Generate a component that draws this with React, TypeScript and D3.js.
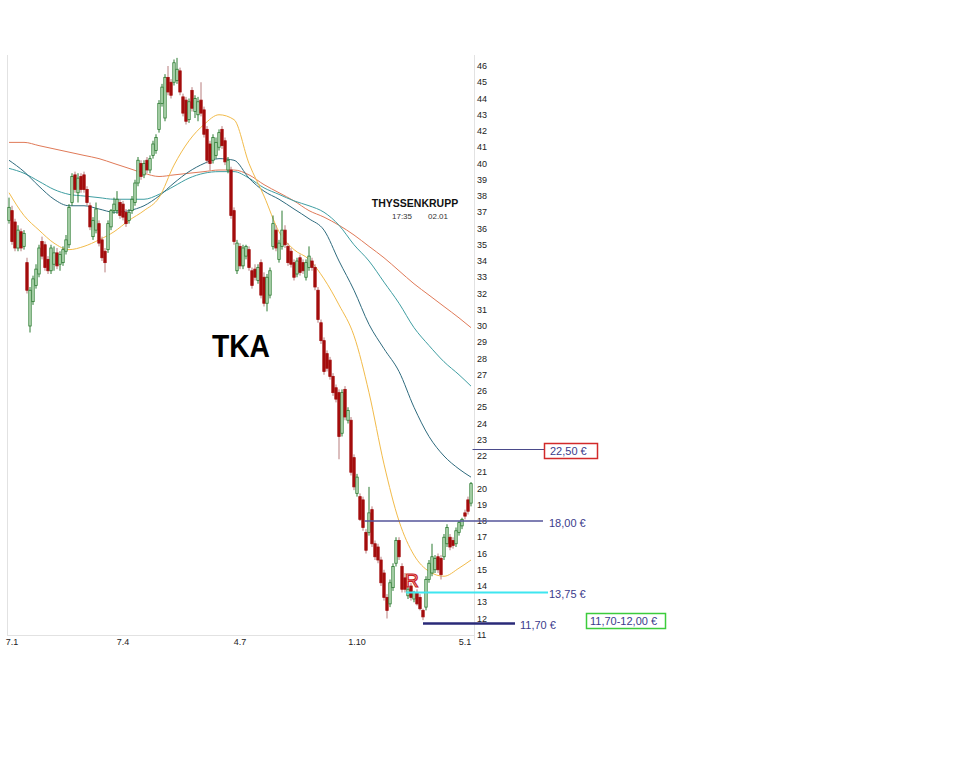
import React from 'react';
import * as d3 from 'd3';

// daily candles [open, high, low, close], left to right
const CANDLES: [number, number, number, number][] = [
  [36.5, 37.9, 36.3, 37.3], [37.1, 37.4, 35.0, 35.2], [36.4, 36.6, 34.6, 34.8], [34.8, 36.2, 34.6, 35.9],
  [35.8, 36.0, 34.6, 34.8], [34.9, 35.9, 34.7, 35.7], [33.9, 34.2, 32.0, 32.2], [30.0, 32.4, 29.6, 32.2],
  [31.5, 33.1, 31.3, 32.9], [32.5, 33.8, 32.3, 33.5], [33.2, 35.0, 33.0, 34.8], [35.2, 35.5, 34.1, 34.3],
  [35.0, 35.2, 33.4, 33.6], [34.1, 34.3, 33.2, 33.4], [33.4, 35.0, 33.2, 34.8], [33.8, 34.9, 33.4, 34.5],
  [34.5, 34.8, 33.5, 33.7], [33.8, 34.6, 33.4, 34.4], [33.9, 34.9, 33.7, 34.7], [34.6, 35.6, 34.4, 35.3],
  [35.0, 37.5, 34.8, 37.3], [37.6, 39.4, 37.4, 39.2], [39.3, 39.5, 38.2, 38.4], [38.2, 39.4, 37.6, 39.1],
  [39.2, 39.4, 38.2, 38.4], [39.3, 39.5, 38.2, 38.4], [38.4, 38.6, 37.4, 37.6], [37.4, 37.6, 35.9, 36.1],
  [35.5, 36.7, 35.3, 36.5], [35.9, 37.6, 35.7, 37.2], [36.3, 36.5, 34.9, 35.1], [35.3, 35.5, 34.0, 34.2],
  [34.6, 34.8, 33.3, 33.9], [34.7, 36.5, 34.5, 36.3], [36.1, 37.2, 35.9, 37.1], [37.1, 37.9, 36.9, 37.5],
  [37.1, 38.3, 36.9, 37.8], [37.6, 37.8, 36.6, 36.8], [37.5, 37.7, 36.5, 36.7], [37.0, 37.2, 36.1, 36.3],
  [36.5, 37.2, 36.3, 37.0], [37.1, 38.0, 36.9, 37.8], [37.6, 39.0, 37.4, 38.8], [38.8, 40.4, 38.6, 40.2],
  [40.0, 40.2, 39.0, 39.2], [39.3, 40.2, 39.1, 40.0], [40.2, 40.4, 39.4, 39.6], [39.6, 40.5, 39.4, 40.3],
  [40.5, 41.4, 40.3, 41.2], [40.8, 41.8, 40.6, 41.6], [42.1, 43.9, 41.9, 43.7], [43.7, 44.9, 43.5, 44.7],
  [42.8, 45.5, 42.6, 45.3], [45.3, 46.0, 44.2, 44.4], [45.0, 45.2, 44.0, 44.2], [45.0, 46.4, 44.8, 46.2],
  [45.1, 46.5, 44.9, 45.8], [45.7, 45.9, 44.2, 44.4], [44.1, 44.3, 42.9, 43.1], [43.9, 44.1, 42.4, 42.6],
  [42.7, 44.0, 42.5, 43.8], [44.5, 44.7, 43.2, 43.4], [43.2, 44.2, 42.8, 44.0], [43.0, 44.1, 42.6, 43.8],
  [43.9, 45.0, 42.9, 43.1], [43.3, 43.5, 41.6, 41.8], [42.1, 42.3, 40.0, 40.2], [41.2, 41.4, 39.6, 40.0],
  [40.2, 41.8, 40.0, 41.6], [40.5, 41.6, 40.3, 41.3], [41.0, 42.1, 40.8, 41.9], [42.1, 42.3, 40.9, 41.1],
  [41.4, 41.6, 39.9, 40.1], [39.6, 40.4, 39.4, 40.2], [39.6, 39.8, 36.6, 36.8], [37.1, 37.3, 35.0, 35.2],
  [33.4, 35.3, 33.2, 35.1], [34.9, 35.1, 33.5, 33.7], [33.7, 35.0, 33.5, 34.8], [34.3, 35.0, 34.1, 34.9],
  [34.7, 34.9, 33.4, 33.6], [33.4, 33.6, 32.3, 32.5], [33.5, 33.8, 32.8, 33.0], [32.8, 33.8, 32.6, 33.6],
  [33.9, 34.1, 31.7, 31.9], [33.0, 33.3, 31.2, 31.4], [31.4, 33.2, 30.9, 33.0], [31.9, 33.6, 31.7, 33.4],
  [34.9, 36.8, 34.7, 36.3], [35.9, 36.2, 34.6, 34.8], [34.1, 35.3, 33.9, 35.1], [34.9, 37.1, 34.7, 35.9],
  [35.9, 36.2, 34.8, 35.0], [34.9, 35.1, 33.7, 33.9], [34.6, 34.8, 33.6, 33.8], [33.9, 34.1, 32.8, 33.0],
  [33.2, 34.2, 33.0, 34.0], [34.2, 34.4, 33.1, 33.3], [33.9, 34.1, 33.2, 33.4], [33.0, 34.1, 32.8, 33.9],
  [33.6, 34.9, 33.4, 34.3], [34.0, 34.2, 33.4, 33.6], [33.6, 33.8, 32.2, 32.4], [32.2, 32.4, 30.2, 30.4],
  [30.2, 30.4, 28.9, 29.1], [29.1, 29.3, 27.0, 27.2], [28.3, 28.5, 27.2, 27.4], [27.9, 28.1, 26.7, 26.9],
  [26.9, 27.1, 25.7, 25.9], [26.2, 26.4, 25.3, 25.5], [25.9, 26.1, 21.8, 23.2], [23.4, 26.1, 23.2, 25.9],
  [26.1, 26.3, 24.2, 24.4], [24.2, 25.0, 24.0, 24.8], [24.2, 24.4, 20.8, 21.0], [21.9, 22.1, 19.9, 20.1],
  [19.7, 20.9, 19.5, 20.7], [19.5, 19.7, 18.0, 18.1], [19.3, 19.5, 17.4, 17.6], [17.3, 17.5, 16.0, 16.2],
  [17.3, 20.1, 17.1, 18.5], [18.7, 18.9, 16.4, 16.6], [16.6, 16.8, 15.6, 15.8], [16.4, 16.6, 15.4, 15.6],
  [15.6, 15.8, 14.0, 14.2], [14.8, 15.0, 13.1, 13.3], [13.3, 13.5, 12.0, 12.5], [12.9, 14.4, 12.7, 14.2],
  [13.9, 15.4, 13.7, 15.2], [15.4, 17.0, 15.2, 16.8], [16.8, 17.0, 15.6, 15.8], [15.2, 15.4, 13.6, 13.8],
  [14.5, 14.8, 13.6, 13.8], [13.4, 14.0, 13.2, 13.8], [14.0, 14.2, 13.1, 13.3], [13.2, 13.7, 13.0, 13.6],
  [13.6, 13.8, 12.8, 12.9], [13.3, 13.5, 12.5, 12.6], [12.5, 12.6, 11.9, 12.1], [12.7, 14.6, 12.5, 14.4],
  [14.4, 15.6, 14.2, 15.4], [14.8, 16.6, 14.6, 15.8], [15.0, 15.9, 14.8, 15.7], [15.8, 16.0, 14.8, 15.0],
  [15.7, 15.9, 14.4, 14.7], [15.8, 17.2, 15.6, 17.0], [16.6, 17.8, 16.4, 17.6], [17.0, 17.2, 16.2, 16.4],
  [16.8, 17.0, 16.3, 16.5], [16.6, 17.6, 16.4, 17.4], [17.3, 18.0, 17.1, 17.9], [17.7, 18.2, 17.5, 18.1],
  [18.5, 18.7, 18.1, 18.3], [19.3, 19.5, 18.4, 18.6], [19.1, 20.4, 18.9, 20.3],
];

// moving averages, read at these candle indices
const MA_INDEX = [0, 5, 10, 15, 20, 25, 30, 35, 40, 45, 50, 55, 60, 65, 70, 75, 80, 85, 90, 95, 100, 105, 110, 115, 120, 125, 130, 135, 140, 145, 150, 154];
const MA_FAST = [38.2, 36.8, 35.9, 35.1, 34.7, 34.9, 35.3, 35.8, 36.5, 37.1, 37.9, 39.9, 41.4, 42.4, 43.0, 42.7, 40.0, 38.0, 35.8, 34.7, 34.1, 32.9, 31.3, 29.4, 25.9, 21.5, 18.0, 15.9, 14.9, 14.6, 15.1, 15.6];
const MA_MID = [40.2, 39.5, 38.6, 37.8, 37.4, 37.4, 37.2, 37.0, 37.1, 37.4, 38.0, 38.8, 39.5, 40.0, 40.3, 40.2, 39.1, 38.3, 37.8, 37.2, 36.6, 35.9, 34.0, 32.2, 30.1, 28.6, 27.2, 25.0, 23.2, 22.0, 21.2, 20.7];
const MA_SLOW = [39.7, 39.4, 38.9, 38.4, 38.1, 38.0, 37.9, 37.8, 37.8, 37.8, 38.1, 38.6, 39.1, 39.4, 39.5, 39.5, 39.1, 38.5, 38.1, 37.7, 37.4, 37.0, 36.2, 35.0, 34.0, 32.7, 31.4, 29.9, 28.8, 27.8, 27.0, 26.3];
const MA_LONG = [41.3, 41.3, 41.1, 40.9, 40.7, 40.5, 40.3, 40.0, 39.7, 39.4, 39.2, 39.3, 39.4, 39.5, 39.6, 39.6, 39.3, 38.7, 38.2, 37.7, 37.1, 36.7, 36.2, 35.6, 34.9, 34.2, 33.4, 32.6, 31.9, 31.2, 30.5, 29.9];

const Y_TICKS = d3.range(11, 47);
const X_TICK_INDEX = [1, 38, 77, 116, 152];
const X_TICK_LABELS = ['7.1', '7.4', '4.7', '1.10', '5.1'];

// horizontal levels: drawn price, label, first candle index
const LEVEL_VALUES = [22.4, 18.0, 13.6, 11.7];
const LEVEL_LABELS = ['22,50 €', '18,00 €', '13,75 €', '11,70 €'];
const LEVEL_START = [154.5, 118.5, 132.3, 138];

const FONT = "'Liberation Sans', Arial, sans-serif";
const NAVY = '#3b3b8c';

const App: React.FC = () => {
  const x = d3.scaleLinear().domain([0, CANDLES.length - 1]).range([9, 471]);
  const y = d3.scaleLinear().domain([11, 46]).range([634.75, 66]);

  const maLine = (vals: number[]) =>
    d3.line<number>()
      .x((d, i) => x(MA_INDEX[i]))
      .y(d => y(d))
      .curve(d3.curveMonotoneX)(vals) || '';

  const maSeries = [
    { vals: MA_LONG, color: '#e07a58' },
    { vals: MA_SLOW, color: '#3f9ea2' },
    { vals: MA_MID, color: '#2f6b7e' },
    { vals: MA_FAST, color: '#f2bb4a' },
  ];

  // where each level line ends, out in the annotation space
  const levelEnd = [544, 543, 548, 515];
  const levelStyle = [
    { color: '#4a4a8a', w: 1 },
    { color: '#55559a', w: 1.5 },
    { color: '#3fe6f0', w: 2 },
    { color: '#2a2a78', w: 2.5 },
  ];
  const labelX = [550, 549, 549, 520];

  return (
    <svg width={960} height={768} style={{ position: 'absolute', left: 0, top: 0, background: '#fff' }}>
      {/* frame */}
      <line x1={7.5} x2={7.5} y1={55} y2={635} stroke="#e2e2e2" />
      <line x1={7} x2={475} y1={635.5} y2={635.5} stroke="#e2e2e2" />
      <line x1={474.5} x2={474.5} y1={55} y2={640} stroke="#e2e2e2" />

      {/* y axis labels */}
      {Y_TICKS.map(v => (
        <text key={v} x={477} y={y(v)} dy="0.35em" fontSize={9} fontFamily={FONT} fill="#222">{v}</text>
      ))}

      {/* x axis labels */}
      {X_TICK_INDEX.map((idx, i) => (
        <text key={i} x={x(idx)} y={645} textAnchor="middle" fontSize={9} fontFamily={FONT} fill="#222">
          {X_TICK_LABELS[i]}
        </text>
      ))}

      {/* moving averages */}
      {maSeries.map((s, i) => (
        <path key={i} d={maLine(s.vals)} fill="none" stroke={s.color} strokeWidth={1} />
      ))}

      {/* candles */}
      {CANDLES.map(([o, h, l, c], i) => {
        const up = c >= o;
        const cx = x(i);
        const top = y(Math.max(o, c));
        const bh = Math.max(1, Math.abs(y(o) - y(c)));
        return (
          <g key={i}>
            <line x1={cx} x2={cx} y1={y(h)} y2={y(l)} stroke={up ? '#2b7a30' : '#b77c7c'} strokeWidth={1} />
            <rect x={cx - 1.2} y={top} width={2.4} height={bh}
              fill={up ? '#bfe0bf' : '#a30d0d'} stroke={up ? '#2b7a30' : '#a30d0d'} strokeWidth={0.8} />
          </g>
        );
      })}

      {/* price levels */}
      {LEVEL_VALUES.map((v, i) => (
        <line key={i} x1={x(LEVEL_START[i])} x2={levelEnd[i]} y1={y(v)} y2={y(v)}
          stroke={levelStyle[i].color} strokeWidth={levelStyle[i].w} />
      ))}
      {LEVEL_VALUES.map((v, i) => (
        <text key={i} x={labelX[i]} y={y(v) + 2} dy="0.35em" fontSize={11}
          fontFamily={FONT} fill={NAVY}>{LEVEL_LABELS[i]}</text>
      ))}
      <rect x={544.5} y={443.5} width={53} height={15} fill="none" stroke="#d22a2a" strokeWidth={1.5} />
      <rect x={586.5} y={613.5} width={79} height={15} fill="none" stroke="#3ccc3c" strokeWidth={1.5} />
      <text x={590} y={621.5} dy="0.35em" fontSize={11} fontFamily={FONT} fill={NAVY}>11,70-12,00 €</text>

      {/* marker */}
      <text x={405} y={587} fontSize={19} fontFamily={FONT} fill="none" stroke="#cc1f1f" strokeWidth={1.2}>R</text>

      {/* titles */}
      <text x={415} y={207} textAnchor="middle" fontSize={10.5} fontWeight="bold" fontFamily={FONT} fill="#111">THYSSENKRUPP</text>
      <text x={392} y={219} fontSize={8} fontFamily={FONT} fill="#333">17:35</text>
      <text x={428} y={219} fontSize={8} fontFamily={FONT} fill="#333">02.01</text>
      <text x={212} y={357} fontSize={32} fontWeight="bold" fontFamily={FONT} fill="#000"
        textLength={58} lengthAdjust="spacingAndGlyphs">TKA</text>
    </svg>
  );
};

export default App;
